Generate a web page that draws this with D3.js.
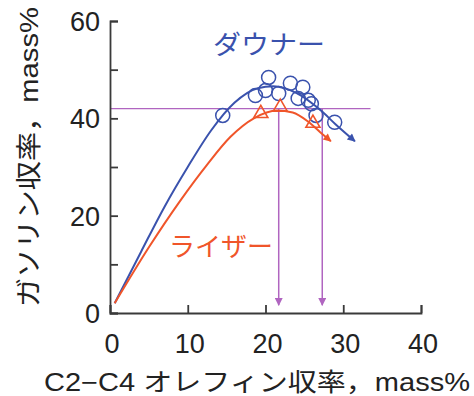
<!DOCTYPE html>
<html>
<head>
<meta charset="utf-8">
<script src="https://cdn.jsdelivr.net/npm/d3@7/dist/d3.min.js"></script>
<style>
body{margin:0;background:#fff;}
.fonts{font-family:"Liberation Sans","Noto Sans CJK JP",sans-serif;}
</style>
</head>
<body>
<div id="viz" style="width:474px;height:396px"></div>
<script>
var width=474, height=396;

// data
var xTicks=[0,10,20,30,40];
var yTicks=[0,20,40,60];
var yMinor=[10,30,50];
var downerX=[14.5,18.7,20.4,20,21.7,23.2,24.8,24.2,25.5,25.9,26.5,28.9];
var downerY=[40.6,44.7,48.4,45.7,45.1,47.2,46.4,44.1,43.7,43,40.6,39.2];
var riserX=[19.4,21.9,26.1];
var riserY=[41,42.3,39];
var downerCurveX=[0.6,4,7,10,13,16,19,21,24,27,29,31.5];
var downerCurveY=[2,12.6,21.8,30,37.5,43.2,46.2,46.6,45.2,41.8,38.8,35.3];
var riserCurveX=[0.6,5,9,12.5,15.5,18.5,21.5,23.5,25.5,27,28.4];
var riserCurveY=[2,13.5,23,30.5,36.2,40,41.6,41.2,39.3,37.2,35.3];
var guideY=42;
var guideXEnd=33.5;
var guideX=[21.7,27.3];

var blue="#3a52ad", red="#f0552a", purple="#b065c0", axisCol="#3a3a3a";

var svg=d3.select("#viz").append("svg")
  .attr("width",width).attr("height",height);

var x=d3.scaleLinear().domain([0,40]).range([110,421]);
var y=d3.scaleLinear().domain([0,60]).range([313,21]);

var defs=svg.append("defs");
function arrow(id,col,w,h){
  defs.append("marker").attr("id",id)
    .attr("viewBox","0 0 10 10").attr("refX",9).attr("refY",5)
    .attr("markerWidth",w).attr("markerHeight",h)
    .attr("markerUnits","userSpaceOnUse")
    .attr("orient","auto")
    .append("path").attr("d","M0,0L10,5L0,10Z").attr("fill",col);
}
arrow("ab",blue,10,8);
arrow("ar",red,10,8);
arrow("ap",purple,9,8);

// guide lines
svg.append("line")
  .attr("x1",x(0)).attr("x2",x(guideXEnd))
  .attr("y1",y(guideY)).attr("y2",y(guideY))
  .attr("stroke",purple).attr("stroke-width",1.3);
guideX.forEach(function(g){
  svg.append("line")
    .attr("x1",x(g)).attr("x2",x(g))
    .attr("y1",y(guideY)).attr("y2",y(1.6))
    .attr("stroke",purple).attr("stroke-width",1.5)
    .attr("marker-end","url(#ap)");
});

// curves
var line=d3.line().x(function(d){return x(d[0]);}).y(function(d){return y(d[1]);})
  .curve(d3.curveMonotoneX);
svg.append("path")
  .attr("d",line(d3.zip(downerCurveX,downerCurveY)))
  .attr("fill","none").attr("stroke",blue).attr("stroke-width",2)
  .attr("marker-end","url(#ab)");
svg.append("path")
  .attr("d",line(d3.zip(riserCurveX,riserCurveY)))
  .attr("fill","none").attr("stroke",red).attr("stroke-width",2)
  .attr("marker-end","url(#ar)");

// points
svg.selectAll(".dn").data(d3.zip(downerX,downerY)).enter()
  .append("circle").attr("class","dn")
  .attr("cx",function(d){return x(d[0]);})
  .attr("cy",function(d){return y(d[1]);})
  .attr("r",7)
  .attr("fill","none").attr("stroke",blue).attr("stroke-width",1.5);

svg.selectAll(".rs").data(d3.zip(riserX,riserY)).enter()
  .append("path").attr("class","rs")
  .attr("d",d3.symbol().type(d3.symbolTriangle).size(85))
  .attr("transform",function(d){return "translate("+x(d[0])+","+y(d[1])+")";})
  .attr("fill","none").attr("stroke",red).attr("stroke-width",1.6);

// axes
var xAxis=d3.axisTop(x).tickValues(xTicks).tickSize(8).tickFormat("");
svg.append("g").attr("transform","translate(0,"+y(0)+")").call(xAxis)
  .call(function(g){g.selectAll("path,line").attr("stroke",axisCol).attr("stroke-width",1.8);});

var yAxis=d3.axisRight(y).tickValues(yTicks.concat(yMinor)).tickSize(8).tickFormat("");
svg.append("g").attr("transform","translate("+x(0)+",0)").call(yAxis)
  .call(function(g){g.selectAll("path,line").attr("stroke",axisCol).attr("stroke-width",1.8);});

// tick labels
svg.selectAll(".xl").data(xTicks).enter().append("text")
  .attr("class","fonts")
  .attr("x",function(d){return x(d)+2;}).attr("y",353)
  .attr("text-anchor","middle").style("font-size","27px").attr("fill","#222")
  .text(function(d){return d;});
svg.selectAll(".yl").data(yTicks).enter().append("text")
  .attr("class","fonts")
  .attr("x",100).attr("y",function(d){return y(d)+10;})
  .attr("text-anchor","end").style("font-size","27px").attr("fill","#222")
  .text(function(d){return d;});

// axis titles
svg.append("text").attr("class","fonts")
  .attr("x",44).attr("y",391)
  .attr("textLength",426).attr("lengthAdjust","spacingAndGlyphs")
  .style("font-size","25px").attr("fill","#222")
  .text("C2\u2212C4 オレフィン収率，mass%");
svg.append("text").attr("class","fonts")
  .attr("transform","translate(38,307) rotate(-90)")
  .attr("textLength",300).attr("lengthAdjust","spacingAndGlyphs")
  .style("font-size","26px").attr("fill","#222")
  .text("ガソリン収率，mass%");

// series labels
svg.append("text").attr("class","fonts")
  .attr("x",213).attr("y",54)
  .attr("textLength",112).attr("lengthAdjust","spacingAndGlyphs")
  .style("font-size","26px").attr("fill",blue)
  .text("ダウナー");
svg.append("text").attr("class","fonts")
  .attr("x",169).attr("y",256)
  .attr("textLength",104).attr("lengthAdjust","spacingAndGlyphs")
  .style("font-size","26px").attr("fill",red)
  .text("ライザー");
</script>
</body>
</html>
